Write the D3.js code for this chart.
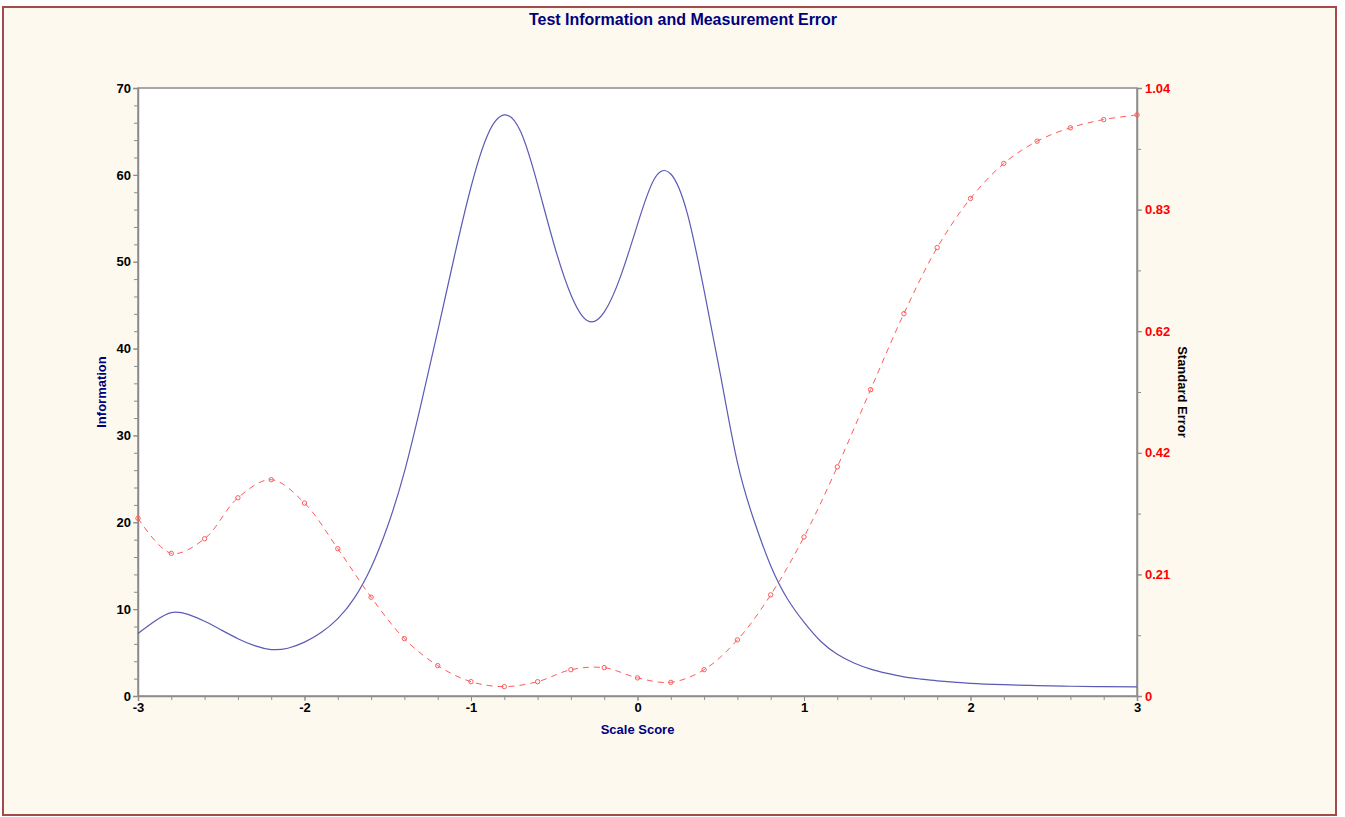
<!DOCTYPE html>
<html>
<head>
<meta charset="utf-8">
<script src="https://cdn.jsdelivr.net/npm/d3@7"></script>
<style>
  html, body { margin: 0; padding: 0; background: #fff; }
  svg { display: block; font-family: "Liberation Sans", Arial, sans-serif; }
</style>
</head>
<body>
<svg id="chart" width="1345" height="817"></svg>
<script>
// ===== Data =====
// Test information curve (scale score -> information)
const infoX = [-3.0, -2.9, -2.8, -2.7, -2.6, -2.5, -2.4, -2.3, -2.2, -2.1, -2.0,
               -1.9, -1.8, -1.7, -1.6, -1.5, -1.4, -1.3, -1.2, -1.1, -1.0,
               -0.9, -0.8, -0.7, -0.6, -0.5, -0.4, -0.3, -0.2, -0.1, 0.0,
               0.1, 0.2, 0.3, 0.4, 0.5, 0.6, 0.7, 0.8, 0.9, 1.0,
               1.1, 1.2, 1.3, 1.4, 1.5, 1.6, 1.7, 1.8, 1.9, 2.0,
               2.2, 2.4, 2.6, 2.8, 3.0];
const infoY = [7.2, 8.6, 9.6, 9.4, 8.6, 7.6, 6.6, 5.8, 5.35, 5.5, 6.2,
               7.3, 8.9, 11.3, 14.8, 19.6, 25.8, 33.6, 42.0, 50.6, 58.6,
               64.6, 66.9, 64.9, 58.9, 51.9, 46.2, 43.2, 44.2, 48.4, 54.3,
               59.5, 60.1, 55.5, 46.7, 36.8, 26.9, 20.2, 15.0, 11.2, 8.5,
               6.3, 4.8, 3.8, 3.1, 2.6, 2.2, 1.95, 1.75, 1.6, 1.45,
               1.3, 1.2, 1.12, 1.07, 1.04];

// Standard error at every 0.2 of scale score
const seX = [-3.0, -2.8, -2.6, -2.4, -2.2, -2.0, -1.8, -1.6, -1.4, -1.2, -1.0,
             -0.8, -0.6, -0.4, -0.2, 0.0, 0.2, 0.4, 0.6, 0.8, 1.0,
             1.2, 1.4, 1.6, 1.8, 2.0, 2.2, 2.4, 2.6, 2.8, 3.0];
const seY = [0.304, 0.244, 0.269, 0.339, 0.370, 0.330, 0.252, 0.169, 0.098, 0.052, 0.0245,
             0.016, 0.0245, 0.045, 0.0485, 0.031, 0.0234, 0.045, 0.096, 0.173, 0.272,
             0.392, 0.524, 0.654, 0.767, 0.851, 0.911, 0.949, 0.972, 0.986, 0.994];

// Axis ticks
const xTicks = [-3, -2, -1, 0, 1, 2, 3];
const infoTicks = [0, 10, 20, 30, 40, 50, 60, 70];
const seTicks = [0, 0.208, 0.416, 0.624, 0.832, 1.04];

// ===== Layout =====
const plot = { left: 138, right: 1137, top: 88, bottom: 696 };
const navy = '#00007f';
const infoColor = '#5b5bb5';
const seColor = '#ff5a5a';
const axisGray = '#8c8c8c';

const svg = d3.select('#chart');

// --- Page frame ---
svg.append('rect')
    .attr('x', 3).attr('y', 7)
    .attr('width', 1333).attr('height', 808)
    .attr('fill', '#fef9ee')
    .attr('stroke', '#a44a4a')
    .attr('stroke-width', 2);

// --- Plot background ---
svg.append('rect')
    .attr('x', plot.left).attr('y', plot.top)
    .attr('width', plot.right - plot.left).attr('height', plot.bottom - plot.top)
    .attr('fill', '#fff')
    .attr('stroke', axisGray)
    .attr('stroke-width', 1.5);

// --- Scales ---
const x = d3.scaleLinear().domain([-3, 3]).range([plot.left, plot.right]);
const yInfo = d3.scaleLinear().domain([0, 70]).range([plot.bottom, plot.top]);
const ySE = d3.scaleLinear().domain([0, 1.04]).range([plot.bottom, plot.top]);

// --- Axes ---
function styleAxis(g, color) {
    g.select('.domain').attr('stroke', axisGray).attr('stroke-width', 1.5);
    g.selectAll('.tick line').attr('stroke', axisGray);
    g.selectAll('.tick text')
        .attr('fill', color)
        .style('font-size', '13px')
        .style('font-weight', 'bold')
        .style('font-family', '"Liberation Sans", Arial, sans-serif');
}

function minorTicks(g) {
    g.select('.domain').remove();
    g.selectAll('line').attr('stroke', axisGray);
}

// minor ticks first, so majors draw on top
svg.append('g')
    .attr('transform', `translate(0,${plot.bottom})`)
    .call(d3.axisBottom(x).tickValues(d3.range(-3, 3.001, 0.2)).tickSize(4).tickFormat(''))
    .call(minorTicks);

svg.append('g')
    .attr('transform', `translate(${plot.left},0)`)
    .call(d3.axisLeft(yInfo).tickValues(d3.range(0, 70.001, 2)).tickSize(4).tickFormat(''))
    .call(minorTicks);

svg.append('g')
    .attr('transform', `translate(${plot.right},0)`)
    .call(d3.axisRight(ySE).tickValues(d3.range(0, 1.0401, 0.104)).tickSize(4).tickFormat(''))
    .call(minorTicks);

// plain hyphen for negatives, like the original
svg.append('g')
    .attr('transform', `translate(0,${plot.bottom})`)
    .call(d3.axisBottom(x).tickValues(xTicks).tickSize(5).tickPadding(2).tickFormat(d => String(d)))
    .call(g => styleAxis(g, '#000'));

svg.append('g')
    .attr('transform', `translate(${plot.left},0)`)
    .call(d3.axisLeft(yInfo).tickValues(infoTicks).tickSize(5).tickPadding(2))
    .call(g => styleAxis(g, '#000'));

svg.append('g')
    .attr('transform', `translate(${plot.right},0)`)
    .call(d3.axisRight(ySE).tickValues(seTicks).tickSize(5).tickPadding(3)
        .tickFormat(d => d === 0 ? '0' : d3.format('.2f')(d)))
    .call(g => styleAxis(g, '#ff0000'));

// --- Information curve ---
const infoData = infoX.map((v, i) => [v, infoY[i]]);
svg.append('path')
    .datum(infoData)
    .attr('fill', 'none')
    .attr('stroke', infoColor)
    .attr('stroke-width', 1.2)
    .attr('d', d3.line().x(d => x(d[0])).y(d => yInfo(d[1])).curve(d3.curveNatural));

// --- Standard error curve ---
const seData = seX.map((v, i) => [v, seY[i]]);
svg.append('path')
    .datum(seData)
    .attr('fill', 'none')
    .attr('stroke', seColor)
    .attr('stroke-width', 1)
    .attr('stroke-dasharray', '6,5')
    .attr('d', d3.line().x(d => x(d[0])).y(d => ySE(d[1])).curve(d3.curveCatmullRom));

svg.append('g')
    .selectAll('circle')
    .data(seData)
    .join('circle')
    .attr('cx', d => x(d[0]))
    .attr('cy', d => ySE(d[1]))
    .attr('r', 2.2)
    .attr('fill', 'none')
    .attr('stroke', seColor)
    .attr('stroke-width', 1);

// --- Titles ---
svg.append('text')
    .attr('x', 683).attr('y', 25)
    .attr('text-anchor', 'middle')
    .attr('fill', navy)
    .style('font-size', '16px')
    .style('font-weight', 'bold')
    .text('Test Information and Measurement Error');

svg.append('text')
    .attr('x', (plot.left + plot.right) / 2).attr('y', 734)
    .attr('text-anchor', 'middle')
    .attr('fill', navy)
    .style('font-size', '13px')
    .style('font-weight', 'bold')
    .text('Scale Score');

svg.append('text')
    .attr('transform', `translate(106,${(plot.top + plot.bottom) / 2}) rotate(-90)`)
    .attr('text-anchor', 'middle')
    .attr('fill', navy)
    .style('font-size', '13px')
    .style('font-weight', 'bold')
    .text('Information');

svg.append('text')
    .attr('transform', `translate(1178,${(plot.top + plot.bottom) / 2}) rotate(90)`)
    .attr('text-anchor', 'middle')
    .attr('fill', '#000')
    .style('font-size', '13px')
    .style('font-weight', 'bold')
    .text('Standard Error');
</script>
</body>
</html>
